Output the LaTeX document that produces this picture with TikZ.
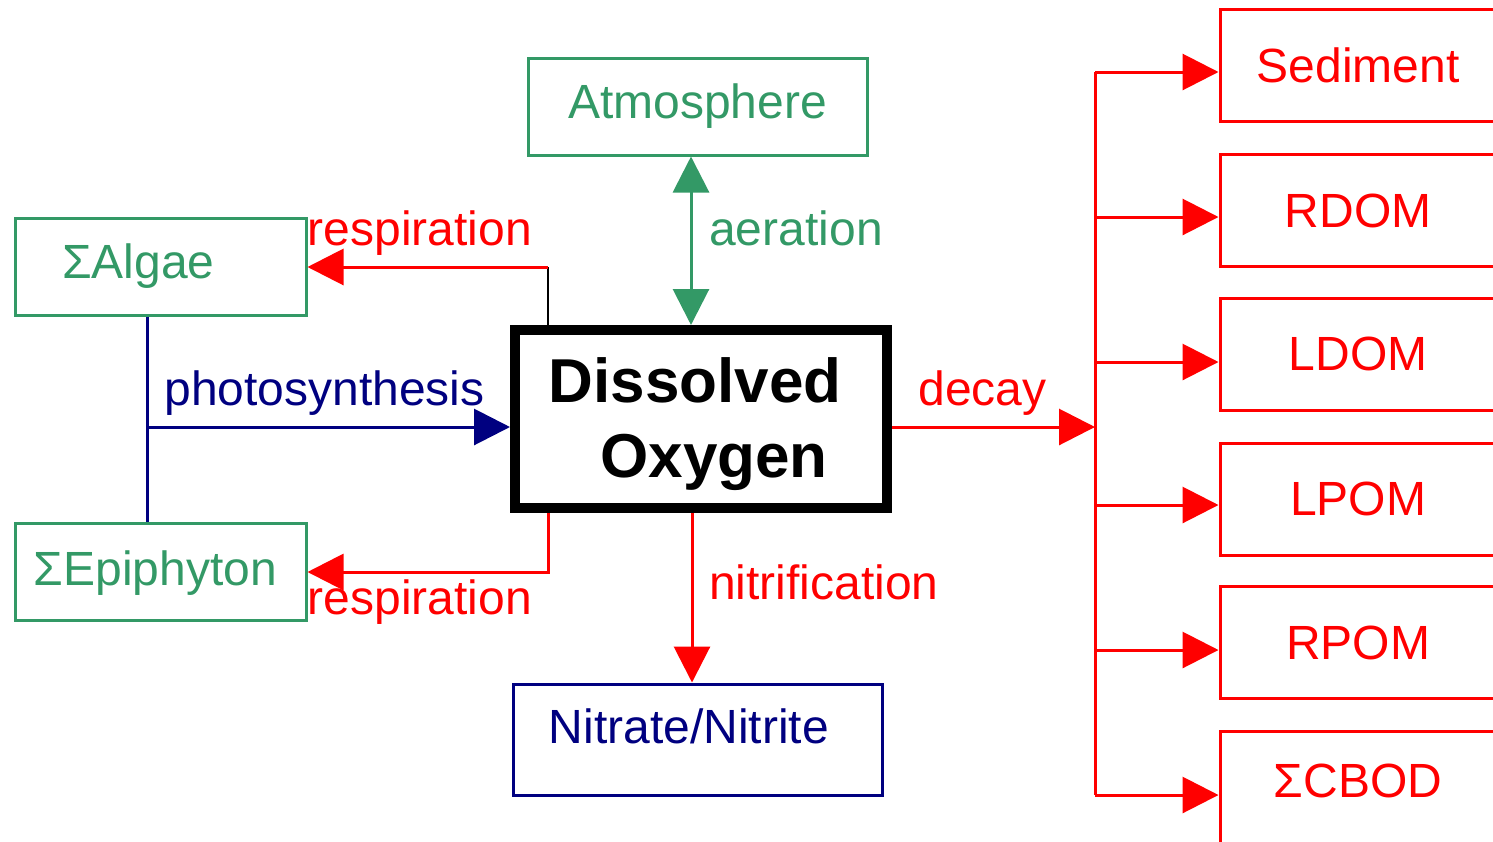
\documentclass[tikz,border=0pt]{standalone}
\usepackage{fontspec}
\setmainfont{Liberation Sans}
\usetikzlibrary{arrows.meta}
\definecolor{dgreen}{RGB}{51,153,102}
\definecolor{navyc}{RGB}{0,0,128}
\definecolor{pred}{RGB}{255,0,0}
\begin{document}
\begin{tikzpicture}[x=0.5pt,y=-0.5pt,
  >={Triangle[length=18pt,width=18pt]},
  lbl/.style={font=\fontsize{24}{28}\selectfont, inner sep=0pt, anchor=base},
  box/.style={draw, line width=1.5pt, font=\fontsize{24}{28}\selectfont, inner sep=0pt},
  gbox/.style={box, draw=dgreen, text=dgreen, minimum width=145.5pt, minimum height=48.5pt},
  rbox/.style={box, draw=pred, text=pred, minimum width=138pt, minimum height=56pt},
  conn/.style={line width=1.5pt},
]
\useasboundingbox (0,0) rectangle (1493,841);
\clip (0,0) rectangle (1493,841);

% boxes
\node[gbox, minimum width=169.5pt] (atm) at (697.5,106.5) {Atmosphere};
\node[gbox] (alg) at (160.5,266.5) {\kern-22pt ΣAlgae};
\node[gbox] (epi) at (160.5,571.5) {\kern-5pt\rule{0pt}{19pt}ΣEpiphyton};
\node[draw, line width=5pt, minimum width=186pt, minimum height=89pt, inner sep=0pt,
  align=center, font=\bfseries\fontsize{31}{37.5}\selectfont] (do) at (701,419)
  {\rule{0pt}{27.6pt}Dissolved\hspace*{6pt}\\\hspace*{19pt}Oxygen\hspace*{6pt}};
\node[box, draw=navyc, text=navyc, minimum width=184.5pt, minimum height=55.5pt, text depth=13.5pt] (nit) at (697.5,739.5) {\kern-8.5pt Nitrate/Nitrite};

\node[rbox] (sed) at (1358,65.5) {Sediment};
\node[rbox] (rdom) at (1358,210.5) {RDOM};
\node[rbox] (ldom) at (1358,354) {LDOM};
\node[rbox] (lpom) at (1358,499) {LPOM};
\node[rbox] (rpom) at (1358,642.5) {RPOM};
\node[rbox, text depth=7pt] (cbod) at (1358,787.5) {ΣCBOD};

% coordinates
\coordinate (bus) at (1095,427);
\coordinate (btop) at (1095,72);
\coordinate (bbot) at (1095,795);
\coordinate (r1) at (548,267);
\coordinate (r2) at (548,572);
\coordinate (ph) at (147,427);
\coordinate (aer) at (691,0);
\coordinate (nx) at (692,0);

% connectors
\draw[conn, dgreen, <->] (atm.south -| aer) -- (do.north -| aer);
\draw[line width=1pt, black] (do.north -| r1) -- (r1);
\draw[conn, pred, ->] (r1) -- (alg.east |- r1);
\draw[conn, pred, ->] (do.south -| r2) -- (r2) -- (epi.east |- r2);
\draw[conn, navyc] (alg.south -| ph) -- (epi.north -| ph);
\draw[conn, navyc, ->] (ph) -- (do.west |- ph);
\draw[conn, pred, ->] (do.south -| nx) -- (nit.north -| nx);
\draw[conn, pred, ->] (do.east |- bus) -- (bus);
\draw[conn, pred] (btop) -- (bbot);
\foreach \n/\yy in {sed/72, rdom/217, ldom/362, lpom/505, rpom/650, cbod/795}{
  \coordinate (a\n) at (1095,\yy);
  \draw[conn, pred, ->] (a\n) -- (a\n -| \n.west);
}

% labels
\node[lbl, text=pred] (lr1) at (420,245) {respiration};
\node[lbl, text=pred] (lr2) at (420,614) {respiration};
\node[lbl, text=dgreen] (laer) at (796,245) {aeration};
\node[lbl, text=navyc] (lph) at (324.5,405) {photosynthesis};
\node[lbl, text=pred] (ldec) at (982.5,405) {decay};
\node[lbl, text=pred] (lnit) at (824,599) {nitrification};
\end{tikzpicture}
\end{document}
